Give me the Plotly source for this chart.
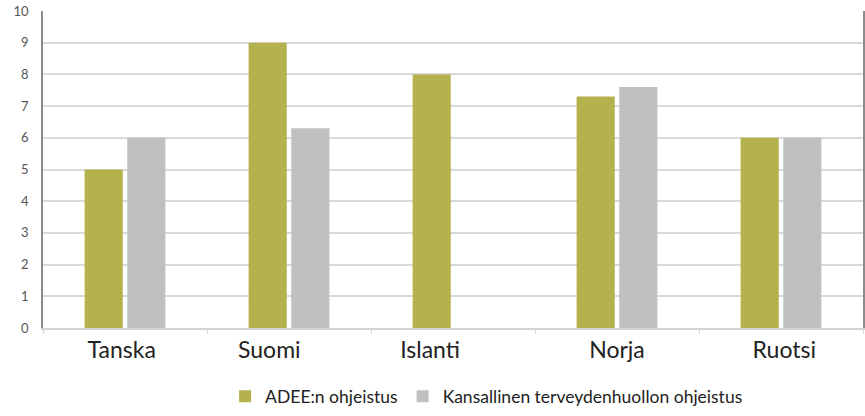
import plotly.graph_objects as go

categories = ["Tanska", "Suomi", "Islanti", "Norja", "Ruotsi"]
adee = [5, 9, 8, 7.3, 6]
kansallinen = [6, 6.3, None, 7.6, 6]
series_names = ["ADEE:n ohjeistus", "Kansallinen terveydenhuollon ohjeistus"]
y_ticks = list(range(0, 11))

# label shifts relative to category centers (as in the reference picture)
label_shift = [-0.02, -0.12, -0.14, 0.0, 0.02]

xpos = list(range(len(categories)))

fig = go.Figure()
fig.add_trace(go.Bar(x=xpos, y=adee, name=series_names[0],
                     marker=dict(color="#b5b14c", line=dict(width=0))))
fig.add_trace(go.Bar(x=xpos, y=kansallinen, name=series_names[1],
                     marker=dict(color="#bfc0bf", line=dict(width=0))))

fig.update_layout(
    width=865, height=416,
    margin=dict(l=43, r=2, t=11, b=80),
    paper_bgcolor="white", plot_bgcolor="white",
    barmode="group", bargap=0.48, bargroupgap=0.106,
    font=dict(family="Lato, Carlito, sans-serif", color="#333"),
    showlegend=True,
    legend=dict(orientation="h", x=0.541, xanchor="center", y=-0.216, yanchor="middle",
                font=dict(size=17.5, color="#222"), itemwidth=30, tracegroupgap=0),
    xaxis=dict(
        range=[-0.5, 4.5], tickmode="array", automargin=False,
        tickvals=[p + s for p, s in zip(xpos, label_shift)], ticktext=categories,
        ticks="", tickfont=dict(size=23, color="#222"),
        showgrid=False, zeroline=False,
        showline=True, linecolor="#d4d4d4", linewidth=2,
        minor=dict(tick0=-0.5, dtick=1, ticks="outside", ticklen=4, tickcolor="#d4d4d4", showgrid=False),
    ),
    yaxis=dict(
        range=[0, 10], tickmode="array", tickvals=y_ticks, automargin=False,
        tickfont=dict(size=13, color="#555"), ticklabeloverflow="allow",
        showgrid=True, gridcolor="#d9d9d9", gridwidth=1.5,
        zeroline=False,
        showline=True, linecolor="#8c8c8c", linewidth=1.5, mirror=True,
        ticks="", ticklabelstandoff=10,
    ),
)

page_js = (
    "var s=document.createElement('style');"
    "s.textContent='html,body{margin:0;padding:0;width:865px;height:416px;overflow:hidden;}';"
    "document.head.appendChild(s);"
)

fig.write_html("out.html", config={"displayModeBar": False}, post_script=page_js)
